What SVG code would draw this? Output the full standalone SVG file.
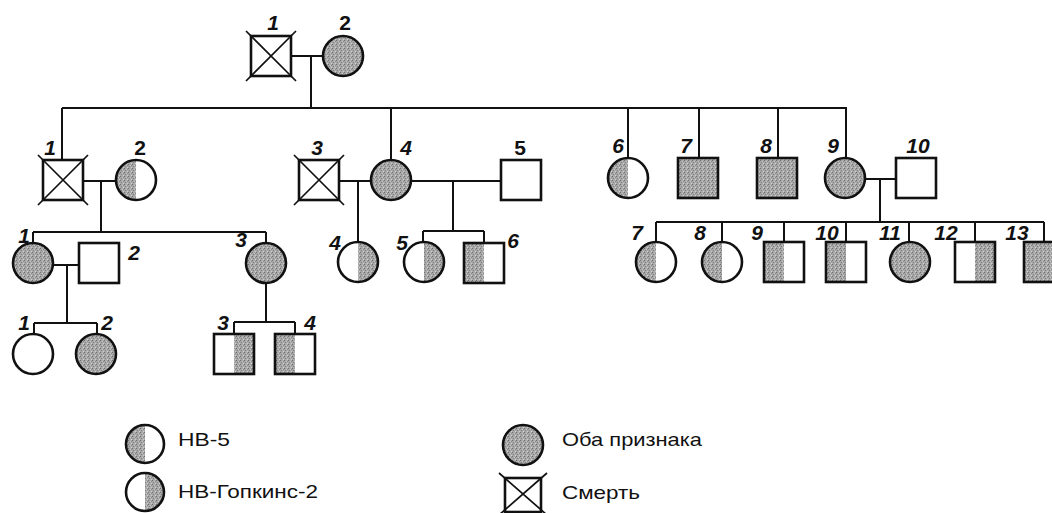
<svg xmlns="http://www.w3.org/2000/svg" width="1052" height="513" viewBox="0 0 1052 513">
<defs>
<pattern id="stip" width="4" height="4" patternUnits="userSpaceOnUse">
<rect width="4" height="4" fill="#a8a8a8"/>
<rect x="0" y="0" width="1" height="1" fill="#6e6e6e"/>
<rect x="2" y="1" width="1" height="1" fill="#c9c9c9"/>
<rect x="1" y="2" width="1" height="1" fill="#808080"/>
<rect x="3" y="3" width="1" height="1" fill="#d0d0d0"/>
<rect x="3" y="1" width="1" height="1" fill="#8a8a8a"/>
</pattern>
</defs>
<style>
.o{fill:none;stroke:#111;stroke-width:2.6}
.w{fill:#fff;stroke:none}
.f{fill:url(#stip);stroke:#111;stroke-width:2.6}
.s{fill:url(#stip);stroke:none}
.x{stroke:#111;stroke-width:1.7;fill:none}
.c{stroke:#111;stroke-width:2;fill:none}
.n{font-family:"Liberation Sans",Arial,sans-serif;font-size:21px;font-weight:bold;font-style:italic;fill:#111;text-anchor:middle}
.u{font-style:normal}
.t{font-family:"Liberation Sans",Arial,sans-serif;font-size:19px;fill:#111}
</style>
<rect width="1052" height="513" fill="#fff"/>

<g id="connectors">
<path class="c" d="M291,56H323M311,56V108M62,108H847M62,108V160M391,108V160M628,108V158M699,108V158M778,108V158M846,108V158"/>
<path class="c" d="M83,181H116M101,181V232M339,181H371M358,181V242M411,181H501M453,181V231M865,179H896M880,179V222"/>
<path class="c" d="M33,232H266M33,232V243M266,232V243M423,231H484M423,231V242M484,231V243"/>
<path class="c" d="M656,222H1044M656,222V242M722,222V242M784,222V242M846,222V242M909,222V242M975,222V242M1044,222V242"/>
<path class="c" d="M52,265H79M67,265V323M34,323H97M34,323V334M97,323V334M266,283V322M234,322H295M234,322V334M295,322V334"/>
</g>

<!-- Generation I -->
<g id="I-1"><rect class="o" x="251" y="36" width="40" height="40"/><path class="x" d="M246,31L296,81M296,31L246,81"/><text class="n" x="273" y="30">1</text></g>
<g id="I-2"><circle class="f" cx="343" cy="56" r="20"/><text class="n u" x="345" y="30">2</text></g>

<!-- Generation II -->
<g id="II-1"><rect class="o" x="43" y="160" width="40" height="40"/><path class="x" d="M38,155L88,205M88,155L38,205"/><text class="n" x="50" y="155">1</text></g>
<g id="II-2"><circle class="w" cx="136" cy="180" r="20"/><path class="s" d="M136,160A20,20 0 0 0 136,200Z"/><circle class="o" cx="136" cy="180" r="20"/><text class="n u" x="140" y="155">2</text></g>
<g id="II-3"><rect class="o" x="299" y="160" width="40" height="40"/><path class="x" d="M294,155L344,205M344,155L294,205"/><text class="n" x="317" y="155">3</text></g>
<g id="II-4"><circle class="f" cx="391" cy="180" r="20"/><text class="n" x="406" y="155">4</text></g>
<g id="II-5"><rect class="o" x="501" y="160" width="40" height="40"/><text class="n u" x="520" y="155">5</text></g>
<g id="II-6"><circle class="w" cx="628" cy="178" r="20"/><path class="s" d="M628,158A20,20 0 0 0 628,198Z"/><circle class="o" cx="628" cy="178" r="20"/><text class="n" x="618" y="153">6</text></g>
<g id="II-7"><rect class="f" x="678" y="158" width="40" height="40"/><text class="n" x="686" y="153">7</text></g>
<g id="II-8"><rect class="f" x="757" y="158" width="40" height="40"/><text class="n" x="766" y="153">8</text></g>
<g id="II-9"><circle class="f" cx="845" cy="178" r="20"/><text class="n" x="833" y="153">9</text></g>
<g id="II-10"><rect class="o" x="896" y="158" width="40" height="40"/><text class="n" x="918" y="153">10</text></g>

<!-- Generation III -->
<g id="III-1"><circle class="f" cx="33" cy="263" r="20"/><text class="n" x="24" y="243">1</text></g>
<g id="III-2"><rect class="o" x="79" y="243" width="40" height="40"/><text class="n" x="134" y="260">2</text></g>
<g id="III-3"><circle class="f" cx="266" cy="263" r="20"/><text class="n" x="241" y="247">3</text></g>
<g id="III-4"><circle class="w" cx="358" cy="262" r="20"/><path class="s" d="M358,242A20,20 0 0 1 358,282Z"/><circle class="o" cx="358" cy="262" r="20"/><text class="n" x="335" y="250">4</text></g>
<g id="III-5"><circle class="w" cx="424" cy="262" r="20"/><path class="s" d="M424,242A20,20 0 0 1 424,282Z"/><circle class="o" cx="424" cy="262" r="20"/><text class="n" x="402" y="250">5</text></g>
<g id="III-6"><rect class="w" x="464" y="243" width="40" height="40"/><rect class="s" x="464" y="243" width="20" height="40"/><rect class="o" x="464" y="243" width="40" height="40"/><text class="n" x="513" y="248">6</text></g>
<g id="III-7"><circle class="w" cx="656" cy="262" r="20"/><path class="s" d="M656,242A20,20 0 0 0 656,282Z"/><circle class="o" cx="656" cy="262" r="20"/><text class="n" x="637" y="240">7</text></g>
<g id="III-8"><circle class="w" cx="722" cy="262" r="20"/><path class="s" d="M722,242A20,20 0 0 0 722,282Z"/><circle class="o" cx="722" cy="262" r="20"/><text class="n" x="700" y="240">8</text></g>
<g id="III-9"><rect class="w" x="764" y="242" width="40" height="40"/><rect class="s" x="764" y="242" width="20" height="40"/><rect class="o" x="764" y="242" width="40" height="40"/><text class="n" x="757" y="240">9</text></g>
<g id="III-10"><rect class="w" x="826" y="242" width="40" height="40"/><rect class="s" x="826" y="242" width="20" height="40"/><rect class="o" x="826" y="242" width="40" height="40"/><text class="n" x="827" y="240">10</text></g>
<g id="III-11"><circle class="f" cx="910" cy="262" r="20"/><text class="n" x="890" y="240">11</text></g>
<g id="III-12"><rect class="w" x="955" y="242" width="40" height="40"/><rect class="s" x="975" y="242" width="20" height="40"/><rect class="o" x="955" y="242" width="40" height="40"/><text class="n" x="946" y="240">12</text></g>
<g id="III-13"><rect class="f" x="1024" y="242" width="40" height="40"/><text class="n" x="1017" y="240">13</text></g>

<!-- Generation IV -->
<g id="IV-1"><circle class="w" cx="33" cy="354" r="20"/><circle class="o" cx="33" cy="354" r="20"/><text class="n" x="24" y="330">1</text></g>
<g id="IV-2"><circle class="f" cx="96" cy="354" r="20"/><text class="n" x="107" y="330">2</text></g>
<g id="IV-3"><rect class="w" x="214" y="334" width="40" height="40"/><rect class="s" x="234" y="334" width="20" height="40"/><rect class="o" x="214" y="334" width="40" height="40"/><text class="n" x="223" y="330">3</text></g>
<g id="IV-4"><rect class="w" x="275" y="334" width="40" height="40"/><rect class="s" x="275" y="334" width="20" height="40"/><rect class="o" x="275" y="334" width="40" height="40"/><text class="n" x="310" y="330">4</text></g>

<!-- Legend -->
<g id="legend-hb5"><circle class="w" cx="145" cy="444" r="19"/><path class="s" d="M145,425A19,19 0 0 0 145,463Z"/><circle class="o" cx="145" cy="444" r="19"/><text class="t" x="178" y="446" textLength="52" lengthAdjust="spacingAndGlyphs">НВ-5</text></g>
<g id="legend-hopkins"><circle class="w" cx="145" cy="492" r="19"/><path class="s" d="M145,473A19,19 0 0 1 145,511Z"/><circle class="o" cx="145" cy="492" r="19"/><text class="t" x="178" y="498" textLength="140" lengthAdjust="spacingAndGlyphs">НВ-Гопкинс-2</text></g>
<g id="legend-both"><circle class="f" cx="523" cy="445" r="20"/><text class="t" x="562" y="446" textLength="140" lengthAdjust="spacingAndGlyphs">Оба признака</text></g>
<g id="legend-death"><rect class="o" x="505" y="478" width="36" height="34"/><path class="x" d="M499,473L547,515M547,473L499,515"/><text class="t" x="562" y="499" textLength="78" lengthAdjust="spacingAndGlyphs">Смерть</text></g>
</svg>
